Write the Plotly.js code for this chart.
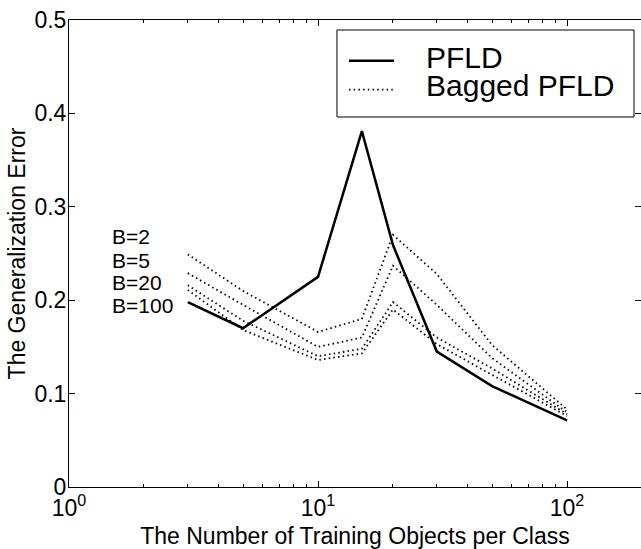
<!DOCTYPE html>
<html>
<head>
<meta charset="utf-8">
<script src="https://cdn.plot.ly/plotly-3.0.1.min.js"></script>
<style>html,body{margin:0;padding:0;background:#fff;}#chart{width:641px;height:549px;}</style>
</head>
<body>
<div id="chart"></div>
<script>
// Number of training objects per class
const nTrain = [3, 5, 10, 15, 20, 30, 50, 100];
// PFLD generalization error
const pfld = [0.198, 0.170, 0.225, 0.381, 0.259, 0.145, 0.108, 0.0714];
// Bagged PFLD generalization error for various B
const bagB2   = [0.249, 0.210, 0.166, 0.180, 0.270, 0.228, 0.152, 0.083];
const bagB5   = [0.229, 0.195, 0.150, 0.160, 0.237, 0.195, 0.138, 0.080];
const bagB20  = [0.216, 0.178, 0.140, 0.148, 0.198, 0.160, 0.127, 0.078];
const bagB100 = [0.211, 0.168, 0.136, 0.143, 0.190, 0.153, 0.120, 0.076];
const bagged = [bagB2, bagB5, bagB20, bagB100];
const bLabels = ["B=2", "B=5", "B=20", "B=100"];
const seriesNames = ["PFLD", "Bagged PFLD"];
const xTickVals = [1, 10, 100];
const xTickText = ["10<sup>0</sup>", "10<sup>1</sup>", "10<sup>2</sup>"];
const yTickVals = [0, 0.1, 0.2, 0.3, 0.4, 0.5];
const yTickText = ["0", "0.1", "0.2", "0.3", "0.4", "0.5"];

const FONT = "Liberation Sans, Arial, Helvetica, sans-serif";
const SOLID = {color: "#000", width: 2.5};
const DOTTED = {color: "#000", width: 1.8, dash: "1.5px,3.2px"};

const traces = [{
  x: nTrain, y: pfld, type: "scatter", mode: "lines", name: seriesNames[0],
  line: SOLID, showlegend: false
}];
bagged.forEach((s, i) => {
  traces.push({
    x: nTrain, y: s, type: "scatter", mode: "lines", name: seriesNames[1] + " " + bLabels[i],
    showlegend: false, line: DOTTED
  });
});

const minorVals = [];
[1, 10, 100].forEach(d => { for (let k = 2; k <= 9; k++) minorVals.push(k * d); });

// B= labels beside the start of the bagged curves
const annYs = [0.536, 0.486, 0.4375, 0.389];
const annotations = bLabels.map((t, i) => ({
  text: t, xref: "paper", yref: "paper", x: 0.0725, y: annYs[i],
  xanchor: "left", yanchor: "middle", showarrow: false,
  font: {family: FONT, size: 21, color: "#000"}
}));

// legend box (drawn to match the original's compact spacing)
const legX0 = 0.4685, legX1 = 0.9878, legYTop = 0.9786, legYBot = 0.7923;
const legRowY = [0.913, 0.851];
const legTextY = [0.9205, 0.8605];
const legLineX = [0.4895, 0.5682];
const shapes = [
  {type: "rect", xref: "paper", yref: "paper", x0: legX0, x1: legX1, y0: legYBot, y1: legYTop,
   line: {color: "#000", width: 1}, fillcolor: "#fff", layer: "above"},
  {type: "line", xref: "paper", yref: "paper", x0: legLineX[0], x1: legLineX[1], y0: legRowY[0], y1: legRowY[0],
   line: SOLID, layer: "above"},
  {type: "line", xref: "paper", yref: "paper", x0: legLineX[0], x1: legLineX[1], y0: legRowY[1], y1: legRowY[1],
   line: DOTTED, layer: "above"}
];
seriesNames.forEach((n, i) => {
  annotations.push({
    text: n, xref: "paper", yref: "paper", x: 0.6215, y: legTextY[i],
    xanchor: "left", yanchor: "middle", showarrow: false,
    font: {family: FONT, size: 30, color: "#000"}
  });
});

const layout = {
  width: 641, height: 549,
  margin: {l: 69, r: 0, t: 20, b: 62},
  paper_bgcolor: "#fff", plot_bgcolor: "#fff",
  font: {family: FONT, color: "#000"},
  showlegend: false,
  xaxis: {
    type: "log", range: [0, 2.297],
    tickvals: xTickVals, ticktext: xTickText,
    ticks: "inside", ticklen: 6, tickcolor: "#000",
    showline: true, linecolor: "#000", linewidth: 1, mirror: "ticks",
    showgrid: false, zeroline: false,
    tickfont: {family: FONT, size: 23, color: "#000"},
    minor: {tickvals: minorVals, ticks: "inside", ticklen: 3, tickcolor: "#000", showgrid: false},
    title: {text: "The Number of Training Objects per Class", font: {family: FONT, size: 23, color: "#000"}, standoff: 8}
  },
  yaxis: {
    range: [0, 0.5],
    tickvals: yTickVals, ticktext: yTickText,
    ticks: "inside", ticklen: 6, tickcolor: "#000",
    showline: true, linecolor: "#000", linewidth: 1, mirror: "ticks",
    showgrid: false, zeroline: false,
    ticklabelstandoff: -3,
    tickfont: {family: FONT, size: 23, color: "#000"},
    title: {text: "The Generalization Error", font: {family: FONT, size: 23, color: "#000"}, standoff: 2}
  },
  shapes: shapes,
  annotations: annotations
};

Plotly.newPlot("chart", traces, layout, {displayModeBar: false, staticPlot: true});
</script>
</body>
</html>
